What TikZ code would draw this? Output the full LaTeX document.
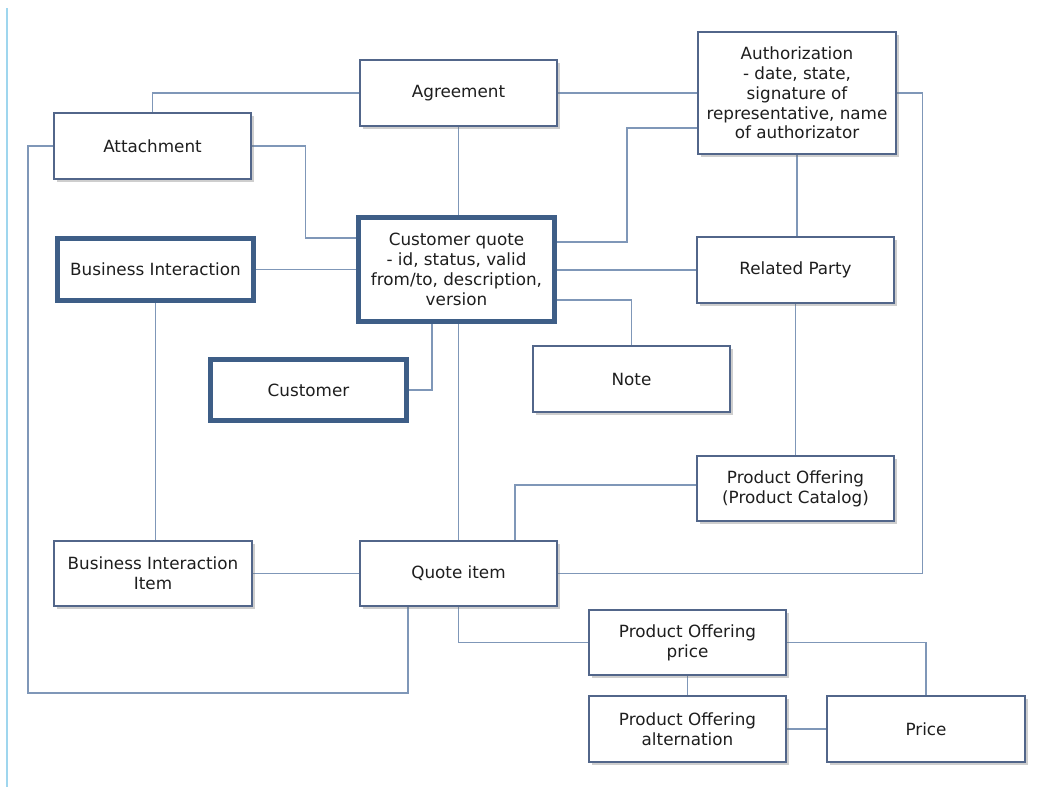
\documentclass[tikz,border=0pt]{standalone}
\usepackage{fontspec}
\setmainfont{DejaVu Sans}
\usetikzlibrary{shadows}
\definecolor{boxline}{HTML}{52668A}
\definecolor{thickline}{HTML}{3E5E87}
\definecolor{conn}{HTML}{7F97B8}
\definecolor{txt}{HTML}{1E1E1E}
\definecolor{edgeline}{HTML}{9FD6EE}
\pgfdeclarelayer{bg}
\pgfdeclarelayer{connlayer}
\pgfsetlayers{bg,connlayer,main}
\begin{document}
\begin{tikzpicture}[x=1pt,y=-1pt,
  box/.style={draw=boxline, line width=1.3pt, fill=white, align=center, text=txt,
    font=\fontsize{16.8}{19.8}\selectfont, inner sep=2pt,
    minimum width=197pt, minimum height=66pt,
    drop shadow={shadow xshift=2.5pt, shadow yshift=-2.5pt, opacity=0.35, fill=black!55}},
  tbox/.style={box, draw=thickline, line width=5pt, minimum width=196pt, minimum height=61pt},
  link/.style={draw=conn, line width=1.2pt}
]
\begin{pgfonlayer}{bg}
  \fill[white] (0,0) rectangle (1046,787);
  \useasboundingbox (0,0) rectangle (1046,787);
  \draw[edgeline, line width=1.2pt] (7,8) -- (7,787);
\end{pgfonlayer}

% nodes
\node[box] (att) at (152.5,146) {Attachment};
\node[box] (agr) at (458.5,93) {Agreement};
\node[box, minimum width=198pt, minimum height=122pt] (auth) at (797,93)
  {Authorization\\- date, state,\\signature of\\representative, name\\of authorizator};
\node[tbox, minimum height=62pt] (bi) at (155.5,269.5) {Business Interaction};
\node[tbox, minimum height=104pt] (cq) at (456.5,269.5)
  {Customer quote\\- id, status, valid\\from/to, description,\\version};
\node[box] (rp) at (795.5,270) {Related Party};
\node[tbox] (cust) at (308.5,390) {Customer};
\node[box] (note) at (631.5,379) {Note};
\node[box, minimum height=65pt] (po) at (795.5,488.5) {Product Offering\\(Product Catalog)};
\node[box, minimum width=198pt, minimum height=65pt] (bii) at (153,573.5) {Business Interaction\\Item};
\node[box, minimum height=65pt] (qi) at (458.5,573.5) {Quote item};
\node[box, minimum height=65pt] (pop) at (687.5,642.5) {Product Offering\\price};
\node[box] (poa) at (687.5,729) {Product Offering\\alternation};
\node[box, minimum width=198pt] (price) at (926,729) {Price};

\coordinate (c5) at (28,693);

\begin{pgfonlayer}{connlayer}
  \draw[link] (agr.west) -| (att.north);
  \draw[link] (agr.east) -- (auth.west);
  \draw[link] (agr.south) -- (agr.south |- cq.north);
  \draw[link] (att.east) -- ++(54,0) |- ([yshift=31.5pt]cq.west);
  \draw[link] (att.west) -| (c5) -| ([xshift=-50.5pt]qi.south);
  \draw[link] ([yshift=27.5pt]cq.east) -- ++(70,0) |- ([yshift=-35pt]auth.west);
  \draw[link] (bi.east) -- (cq.west);
  \draw[link] (rp.west) -- (rp.west -| cq.east);
  \draw[link] ([yshift=-30.5pt]cq.east) -| (note.north);
  \draw[link] ([xshift=-24.5pt]cq.south) |- (cust.east);
  \draw[link] (qi.north) -- (qi.north |- cq.south);
  \draw[link] (auth.south) -- (auth.south |- rp.north);
  \draw[link] (rp.south) -- (po.north);
  \draw[link] (auth.east) -- ++(26,0) |- (qi.east);
  \draw[link] ([yshift=3.5pt]po.west) -| ([xshift=56.5pt]qi.north);
  \draw[link] (bi.south) -- (bi.south |- bii.north);
  \draw[link] (bii.east) -- (qi.west);
  \draw[link] (qi.south) |- (pop.west);
  \draw[link] (pop.east) -| (price.north);
  \draw[link] (pop.south) -- (poa.north);
  \draw[link] (poa.east) -- (price.west);
\end{pgfonlayer}
\end{tikzpicture}
\end{document}
